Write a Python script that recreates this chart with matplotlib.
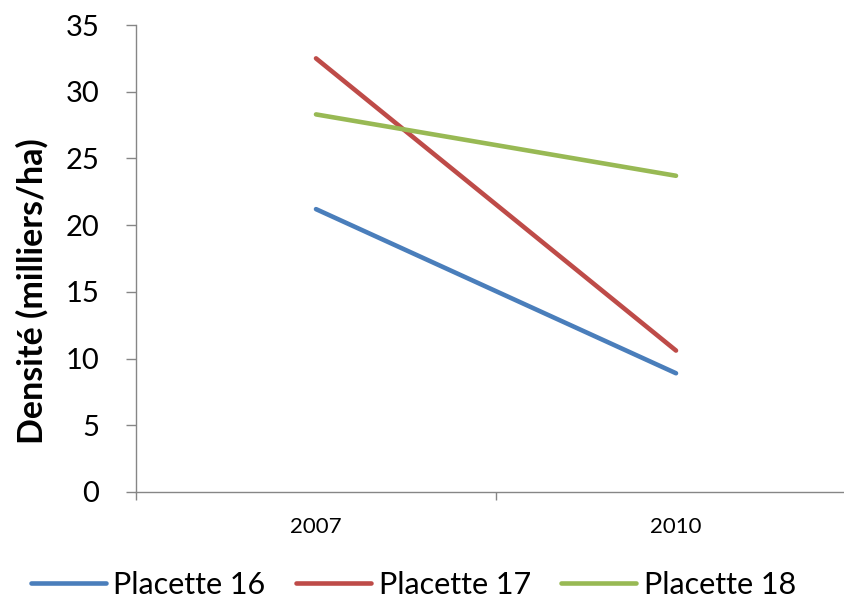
import matplotlib
matplotlib.use("Agg")
import matplotlib.pyplot as plt

# --- Data ---
years = ["2007", "2010"]
placette_16 = [21.2, 8.9]
placette_17 = [32.5, 10.6]
placette_18 = [28.3, 23.7]
series_names = ["Placette 16", "Placette 17", "Placette 18"]
y_ticks = [0, 5, 10, 15, 20, 25, 30, 35]

COLORS = ["#4A7EBB", "#BE4B48", "#98B954"]
AXIS_GRAY = "#868686"

plt.rcParams["font.family"] = ["Lato", "DejaVu Sans"]

fig = plt.figure(figsize=(8.44, 6.03), dpi=100)
ax = fig.add_axes([136 / 844, 1 - 492 / 603, 720 / 844, 467 / 603])

x = list(range(len(years)))
for vals, name, color in zip([placette_16, placette_17, placette_18], series_names, COLORS):
    ax.plot(x, vals, color=color, linewidth=3.3, solid_capstyle="round", label=name)

ax.set_xlim(-0.5, len(years) - 0.5)
ax.set_ylim(0, 35)

# y axis
ax.set_yticks(y_ticks)
ax.tick_params(axis="y", length=7.5, width=1.0, color=AXIS_GRAY, pad=19, labelsize=21)

# x axis: ticks between categories, labels centred on categories
ax.set_xticks([-0.5, 0.5, 1.5])
ax.set_xticklabels([])
ax.tick_params(axis="x", which="major", length=6, width=1.0, color=AXIS_GRAY, direction="out")
ax.set_xticks(x, years, minor=True)
ax.tick_params(axis="x", which="minor", length=0, pad=18, labelsize=16)

for side in ["top", "right"]:
    ax.spines[side].set_visible(False)
for side in ["left", "bottom"]:
    ax.spines[side].set_color(AXIS_GRAY)
    ax.spines[side].set_linewidth(1.0)

ax.set_ylabel("Densité (milliers/ha)", fontsize=24.5, fontweight="bold")
ax.yaxis.set_label_coords(-0.122, 0.43)

fig.legend(loc="center", bbox_to_anchor=(0.49, 0.03), ncol=3, frameon=False,
           fontsize=22, handlelength=2.45, handletextpad=0.25, columnspacing=1.0,
           borderpad=0, borderaxespad=0)

fig.savefig("out.png", dpi=100)
